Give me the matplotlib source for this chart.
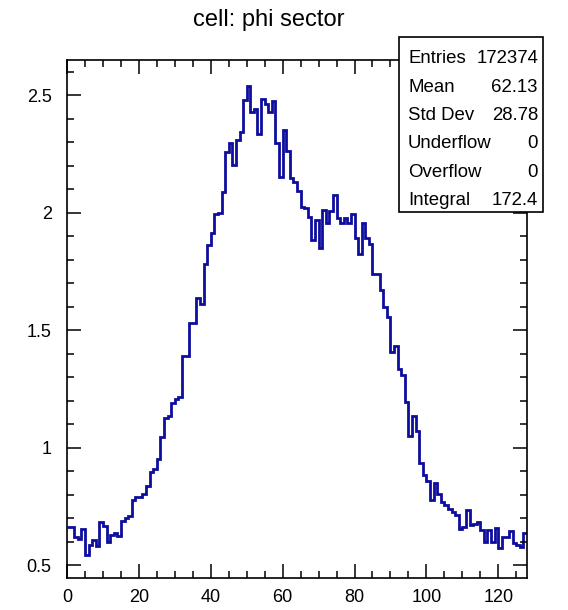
import numpy as np
import matplotlib.pyplot as plt
from matplotlib.patches import Rectangle
from matplotlib.ticker import MultipleLocator, FuncFormatter

plt.rcParams['font.family'] = ['Liberation Sans', 'DejaVu Sans']

title = "cell: phi sector"
x_min, x_max = 0, 128

# bin contents, 128 bins over [0, 128)
counts = [
    0.660, 0.660, 0.621, 0.611, 0.652, 0.543, 0.585, 0.606, 0.581, 0.683,
    0.666, 0.599, 0.628, 0.638, 0.623, 0.687, 0.699, 0.710, 0.779, 0.791,
    0.791, 0.803, 0.835, 0.898, 0.909, 0.950, 1.046, 1.124, 1.135, 1.191,
    1.205, 1.217, 1.389, 1.389, 1.528, 1.528, 1.635, 1.609, 1.780, 1.862,
    1.915, 1.993, 2.000, 2.088, 2.258, 2.294, 2.202, 2.308, 2.343, 2.479,
    2.539, 2.428, 2.440, 2.335, 2.481, 2.463, 2.429, 2.476, 2.296, 2.151,
    2.352, 2.263, 2.145, 2.129, 2.093, 2.025, 2.018, 1.979, 1.883, 1.968,
    1.848, 2.011, 1.954, 2.008, 2.074, 1.975, 1.957, 1.975, 1.954, 1.994,
    1.890, 1.823, 1.957, 1.890, 1.866, 1.738, 1.738, 1.670, 1.600, 1.557,
    1.406, 1.434, 1.335, 1.309, 1.195, 1.048, 1.134, 1.070, 0.935, 0.883,
    0.857, 0.778, 0.849, 0.803, 0.767, 0.755, 0.738, 0.725, 0.712, 0.652,
    0.660, 0.734, 0.672, 0.673, 0.684, 0.649, 0.600, 0.649, 0.599, 0.656,
    0.573, 0.618, 0.620, 0.646, 0.595, 0.587, 0.575, 0.636,
]

stat_names = ["Entries", "Mean", "Std Dev", "Underflow", "Overflow", "Integral"]
stat_values = ["172374", "62.13", "28.78", "0", "0", "172.4"]

W, H = 568, 610
fig = plt.figure(figsize=(W / 100, H / 100), dpi=100)


def fx(px):
    return px / W


def fy(py):
    return 1 - py / H


ax = fig.add_axes([fx(67), fy(578), fx(527) - fx(67), fy(60) - fy(578)])
edges = np.linspace(x_min, x_max, len(counts) + 1)
ax.stairs(counts, edges, baseline=None, color="#0d0d9e", lw=2.0)

ax.set_xlim(x_min, x_max)
ax.set_ylim(0.445, 2.649)
ax.xaxis.set_major_locator(MultipleLocator(20))
ax.xaxis.set_minor_locator(MultipleLocator(5))
ax.yaxis.set_major_locator(MultipleLocator(0.5))
ax.yaxis.set_minor_locator(MultipleLocator(0.1))
ax.yaxis.set_major_formatter(FuncFormatter(lambda v, p: "%g" % v))
ax.tick_params(which="both", direction="in", top=True, right=True,
               width=1.1, labelsize=13)
ax.tick_params(which="major", length=10)
ax.tick_params(which="minor", length=5)
ax.tick_params(axis="y", pad=11)
ax.tick_params(axis="x", pad=8)
for s in ax.spines.values():
    s.set_linewidth(1.2)

fig.text(fx(269), fy(20), title, ha="center", va="center", fontsize=17)

# stats box
box = Rectangle((fx(399), fy(212)), fx(543) - fx(399), fy(37) - fy(212),
                transform=fig.transFigure, facecolor="white",
                edgecolor="black", lw=1.2, zorder=5)
fig.add_artist(box)
row_base = [63, 92, 120, 148, 177, 205]
for name, val, yb in zip(stat_names, stat_values, row_base):
    fig.text(fx(408), fy(yb), name, ha="left", va="baseline",
             fontsize=13.4, zorder=6)
    fig.text(fx(538), fy(yb), val, ha="right", va="baseline",
             fontsize=13.4, zorder=6)

fig.savefig("out.png", dpi=100)
